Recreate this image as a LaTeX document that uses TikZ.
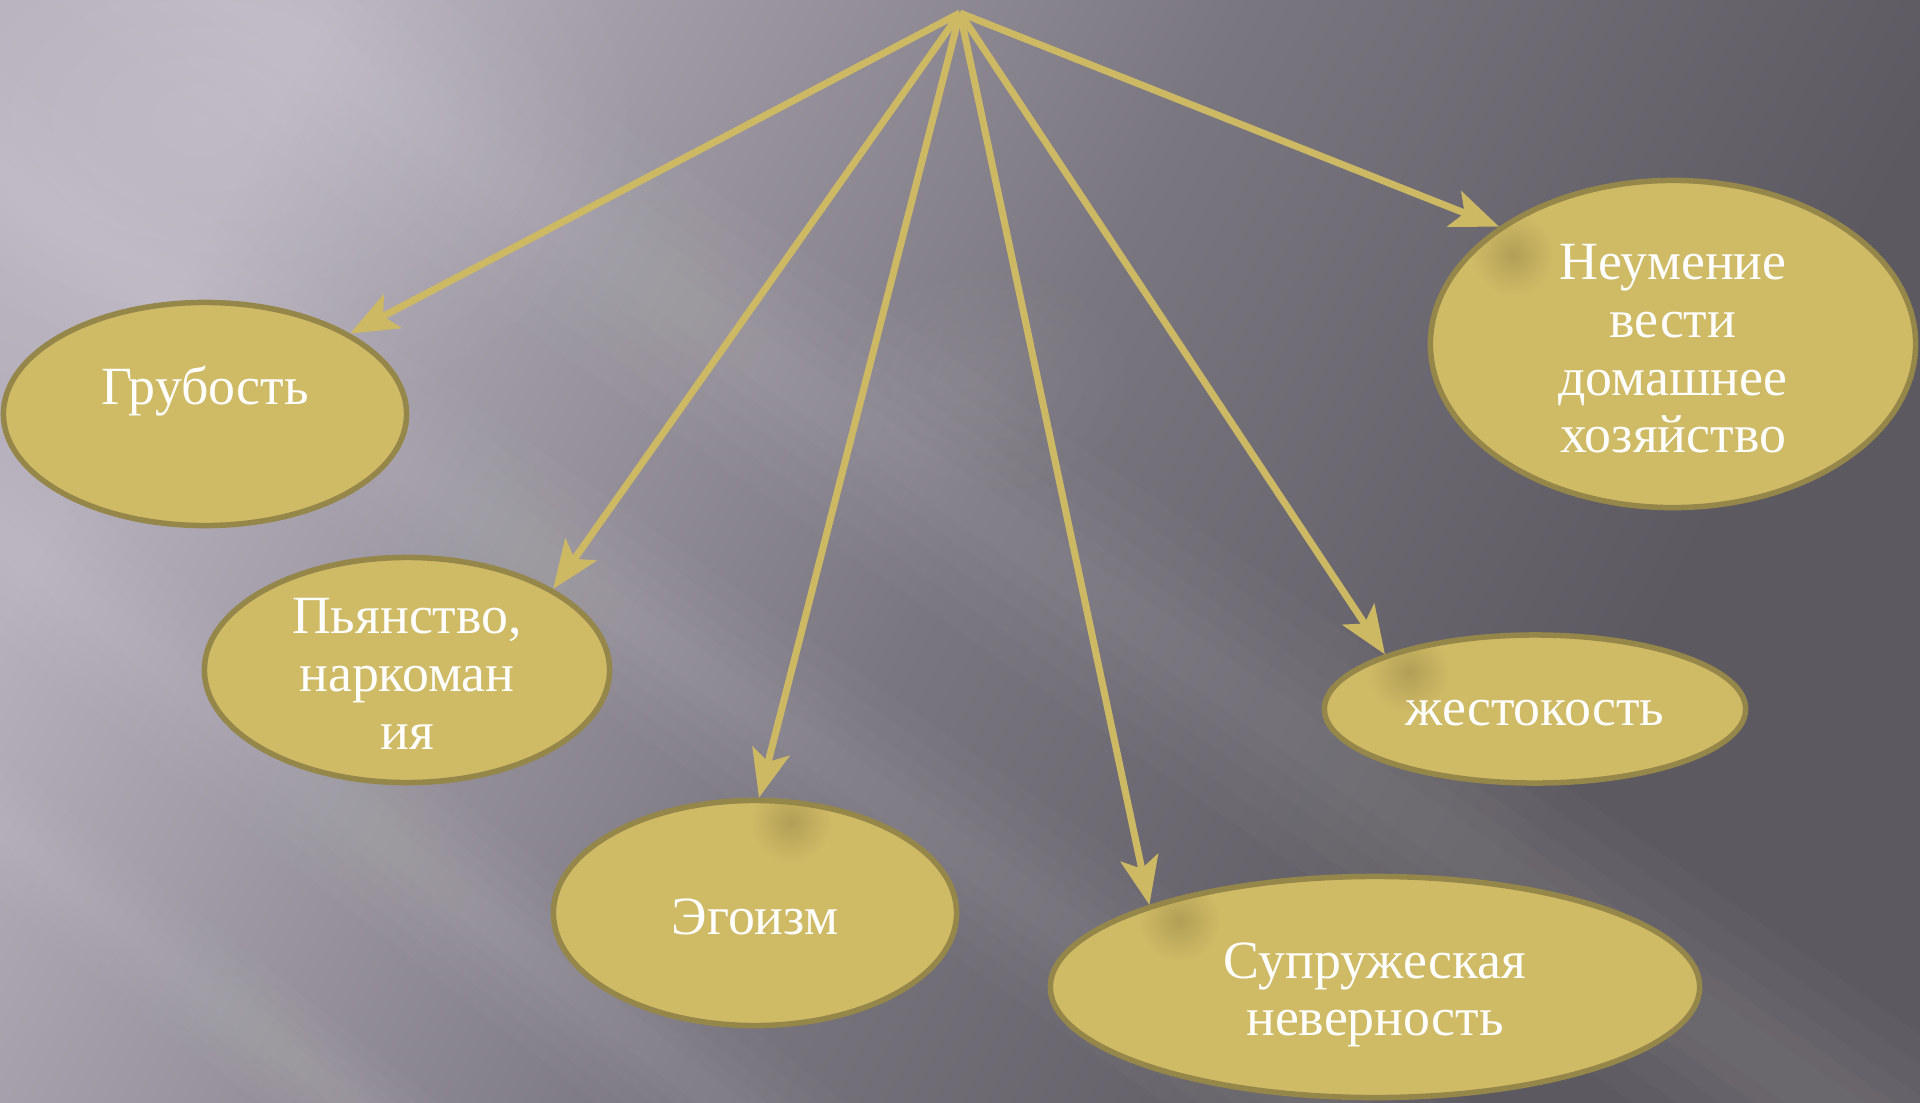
\documentclass[tikz,border=0pt]{standalone}
\usepackage{fontspec}
\setmainfont{Liberation Serif}
\usetikzlibrary{arrows.meta,shapes.geometric,fadings,calc}
\definecolor{bgA}{RGB}{182,176,188}
\definecolor{bgB}{RGB}{122,118,127}
\definecolor{bgC}{RGB}{93,89,97}
\definecolor{ellfill}{RGB}{207,186,102}
\definecolor{ellline}{RGB}{149,134,73}
\definecolor{arrcol}{RGB}{205,184,100}
\definecolor{blobcol}{RGB}{150,134,70}
\pgfdeclarehorizontalshading{bgshade}{100bp}{color(0bp)=(bgA); color(25bp)=(bgA); color(50bp)=(bgB); color(70bp)=(bgC); color(100bp)=(bgC)}
\tikzfading[name=softout, inner color=transparent!0, outer color=transparent!100]
\begin{document}
\begin{tikzpicture}[x=0.01cm,y=-0.01cm,
  ell/.style={ellipse, draw=ellline, fill=ellfill, line width=0.055cm, inner sep=0pt},
  txt/.style={text=white, align=center, inner sep=0pt, font=\fontsize{15.3pt}{16.4pt}\selectfont},
  arr/.style={draw=arrcol, line width=0.07cm, -{Stealth[length=0.48cm,width=0.38cm,inset=0.11cm]}},
  ray/.style={white, opacity=0.02, line cap=butt},
  blob/.style={blobcol, opacity=0.5, path fading=softout}
]
\useasboundingbox (0,0) rectangle (1920,1102);
\shade[shading=bgshade, shading angle=-28] (0,0) rectangle (1920,1102);
% light rays
\begin{scope}
\clip (0,0) rectangle (1920,1102);
\foreach \w in {2.2cm,1.7cm,1.2cm,0.8cm,0.45cm}{
  \draw[ray, line width=\w] (-250,-350) -- (2150,1330);
  \draw[ray, line width=0.8*\w] (-300,-30) -- (1700,1370);
  \draw[ray, line width=0.7*\w] (-200,380) -- (1100,1400);
  \draw[ray, line width=0.5*\w] (-150,710) -- (600,1300);
}
\fill[white, opacity=0.13, path fading=softout] (200,120) ellipse (460 and 320);
\fill[white, opacity=0.06, path fading=softout] (980,380) ellipse (160 and 120);
\end{scope}

\coordinate (apex) at (960,13);

\node[ell, minimum width=4.03cm, minimum height=2.23cm] (grub) at (205,414) {};
\node[ell, minimum width=4.05cm, minimum height=2.25cm] (pyan) at (407,670) {};
\node[ell, minimum width=4.03cm, minimum height=2.25cm] (ego) at (755,913) {};
\node[ell, minimum width=6.49cm, minimum height=2.21cm] (supr) at (1375,987) {};
\node[ell, minimum width=4.21cm, minimum height=1.48cm] (zhest) at (1535,709) {};
\node[ell, minimum width=4.85cm, minimum height=3.27cm] (neum) at (1673,344) {};

% arrow shadows on the ellipses
\begin{scope}
\clip (755,913) ellipse (199 and 110);
\fill[blob] ($(ego.88)+(32,24)$) circle (40);
\end{scope}
\begin{scope}
\clip (1375,987) ellipse (322 and 108);
\fill[blob] ($(supr.160)+(30,16)$) circle (40);
\end{scope}
\begin{scope}
\clip (1535,709) ellipse (208 and 71);
\fill[blob] ($(zhest.160)+(24,18)$) circle (40);
\end{scope}
\begin{scope}
\clip (1673,344) ellipse (240 and 161);
\fill[blob] ($(neum.146)+(14,28)$) circle (40);
\end{scope}

\node[txt] (grubt) at ($(grub.center)+(0,-23)$) {Грубость};
\node[txt] (pyant) at ($(pyan.center)+(0,4)$) {Пьянство,\\наркоман\\ия};
\node[txt] (egot) at ($(ego.center)+(0,4)$) {Эгоизм};
\node[txt] (suprt) at ($(supr.center)+(0,8)$) {Супружеская\\неверность};
\node[txt] (zhestt) at ($(zhest.center)+(0,4)$) {жестокость};
\node[txt] (neumt) at ($(neum.center)+(0,5)$) {Неумение\\вести\\домашнее\\хозяйство};

\draw[arr] (apex) -- (grub.29);
\draw[arr] (apex) -- (pyan.29);
\draw[arr] (apex) -- (ego.88);
\draw[arr] (apex) -- (supr.160);
\draw[arr] (apex) -- (zhest.160);
\draw[arr] (apex) -- (neum.146);
\end{tikzpicture}
\end{document}
